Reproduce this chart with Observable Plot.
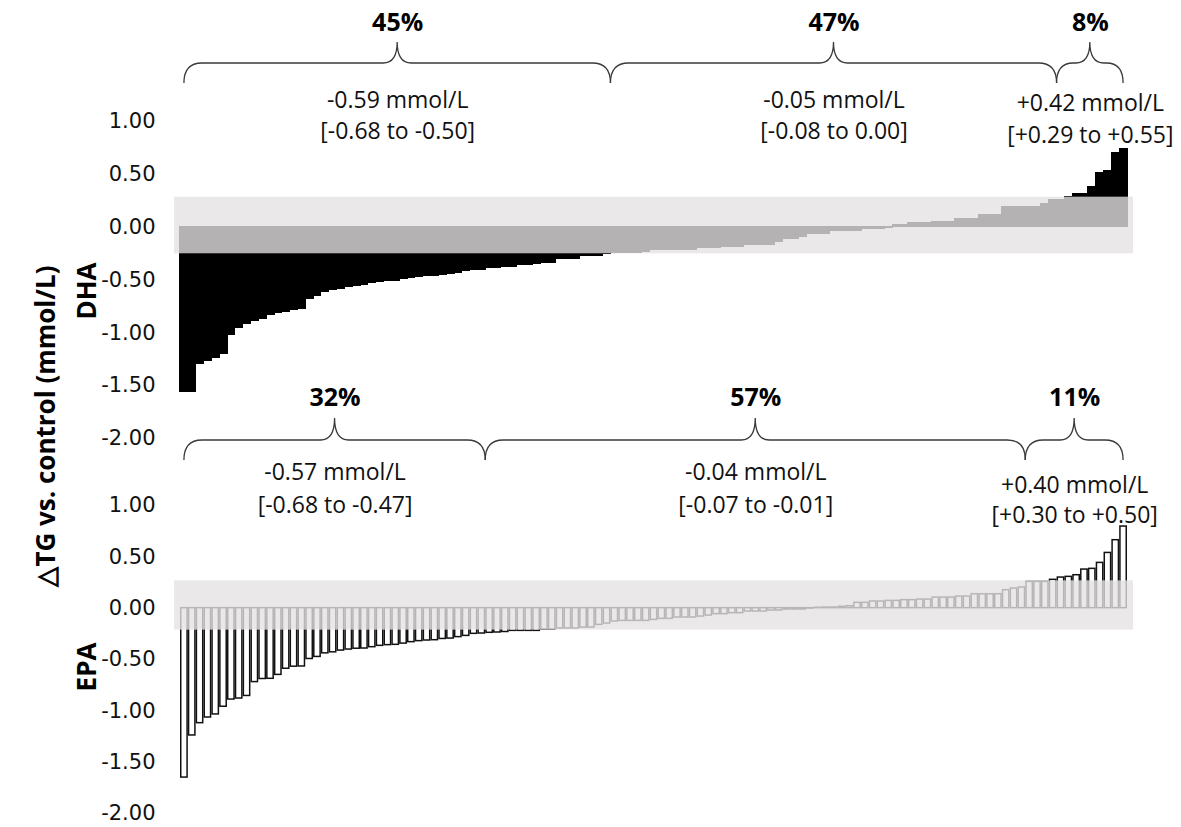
<!DOCTYPE html>
<html><head><meta charset="utf-8">
<script src="https://cdn.jsdelivr.net/npm/d3@7"></script>
<script src="https://cdn.jsdelivr.net/npm/@observablehq/plot@0.6"></script>
<style>
body{margin:0;background:#fff;}
#wrap{position:relative;width:1181px;height:827px;overflow:hidden;background:#fff;}
#wrap svg{position:absolute;left:0;background:transparent;overflow:visible;}
.rot{position:absolute;transform:translate(-50%,-50%) rotate(-90deg);white-space:nowrap;font-family:"Open Sans";font-weight:bold;color:#000;}
</style></head>
<body><div id="wrap">
<div class="rot" style="left:45px;top:426px;font-size:26px;">△TG vs. control (mmol/L)</div>
<div class="rot" style="left:86px;top:291px;font-size:26px;">DHA</div>
<div class="rot" style="left:86px;top:667px;font-size:26px;">EPA</div>
</div>
<script>
// ---- data (sorted per-subject changes, mmol/L) ----
const dhaValues = [
-1.56,-1.56,-1.29,-1.27,-1.24,-1.20,-1.015,-0.95,-0.92,-0.89,
-0.865,-0.826,-0.81,-0.80,-0.78,-0.77,-0.675,-0.65,-0.61,-0.593,
-0.58,-0.567,-0.558,-0.542,-0.526,-0.52,-0.511,-0.504,-0.492,-0.479,
-0.47,-0.463,-0.457,-0.448,-0.441,-0.432,-0.415,-0.405,-0.40,-0.388,
-0.388,-0.372,-0.372,-0.353,-0.353,-0.345,-0.337,-0.337,-0.299,-0.299,
-0.299,-0.274,-0.274,-0.27,-0.25,-0.248,-0.248,-0.248,-0.248,-0.23,
-0.214,-0.214,-0.214,-0.214,-0.214,-0.214,-0.195,-0.195,-0.195,-0.183,
-0.183,-0.183,-0.167,-0.167,-0.167,-0.167,-0.142,-0.11,-0.11,-0.09,
-0.063,-0.063,-0.063,-0.031,-0.031,-0.031,-0.031,-0.016,-0.016,-0.016,
-0.005,0.023,0.023,0.038,0.038,0.038,0.047,0.047,0.047,0.073,
0.073,0.073,0.114,0.114,0.114,0.19,0.19,0.19,0.19,0.19,
0.22,0.253,0.253,0.284,0.31,0.31,0.38,0.515,0.53,0.70,
0.735];
const epaValues = [
-1.65,-1.24,-1.12,-1.065,-1.035,-0.96,-0.89,-0.88,-0.855,-0.72,
-0.69,-0.688,-0.65,-0.59,-0.57,-0.568,-0.495,-0.475,-0.44,-0.43,
-0.413,-0.403,-0.395,-0.393,-0.38,-0.367,-0.36,-0.357,-0.345,-0.331,
-0.321,-0.315,-0.312,-0.30,-0.296,-0.282,-0.27,-0.25,-0.247,-0.24,
-0.237,-0.232,-0.221,-0.221,-0.221,-0.221,-0.208,-0.208,-0.198,-0.198,
-0.198,-0.189,-0.189,-0.163,-0.15,-0.13,-0.124,-0.124,-0.124,-0.124,
-0.114,-0.104,-0.104,-0.091,-0.091,-0.091,-0.082,-0.072,-0.058,-0.058,
-0.049,-0.049,-0.033,-0.033,-0.033,-0.023,-0.023,-0.013,-0.013,-0.013,
-0.004,0.004,0.006,0.006,0.013,0.019,0.052,0.052,0.065,0.065,
0.071,0.071,0.078,0.078,0.084,0.084,0.103,0.103,0.103,0.113,
0.113,0.136,0.136,0.136,0.136,0.175,0.191,0.201,0.256,0.256,
0.256,0.276,0.298,0.305,0.321,0.376,0.383,0.441,0.538,0.662,
0.795];

const yTicks = [1, 0.5, 0, -0.5, -1, -1.5, -2];

const dhaGroupSizes = [55, 57, 9];
const dhaPct  = ["45%", "47%", "8%"];
const dhaMean = ["-0.59 mmol/L", "-0.05 mmol/L", "+0.42 mmol/L"];
const dhaCI   = ["[-0.68 to -0.50]", "[-0.08 to 0.00]", "[+0.29 to +0.55]"];
const dhaBand = [-0.252, 0.284];

const epaGroupSizes = [39, 69, 13];
const epaPct  = ["32%", "57%", "11%"];
const epaMean = ["-0.57 mmol/L", "-0.04 mmol/L", "+0.40 mmol/L"];
const epaCI   = ["[-0.68 to -0.47]", "[-0.07 to -0.01]", "[+0.30 to +0.50]"];
const epaBand = [-0.214, 0.266];

function makeGroups(sizes, pct, mean, ci) {
  let c = 0;
  return sizes.map((s, k) => {
    const g = {k, pct: pct[k], mean: mean[k], ci: ci[k], b0: k === 0 ? c + 0.5 : c, b1: k === sizes.length - 1 ? c + s - 0.5 : c + s};
    g.mid = (g.b0 + g.b1) / 2;
    c += s;
    return g;
  });
}

function braces(groups, yEnd, yLine, yCusp) {
  return (index, scales, values, dimensions) => {
    const g = d3.create("svg:g");
    const t = dimensions.marginTop;
    for (const gr of groups) {
      const x0 = scales.x(gr.b0), x1 = scales.x(gr.b1), xm = (x0 + x1) / 2;
      const r = Math.min(18, (x1 - x0) / 4), rc = Math.min(14, (x1 - x0) / 4);
      const e = t + yEnd, l = t + yLine, c = t + yCusp;
      const d = `M${x0},${e} Q${x0},${l} ${x0 + r},${l} L${xm - rc},${l} Q${xm},${l} ${xm},${c} Q${xm},${l} ${xm + rc},${l} L${x1 - r},${l} Q${x1},${l} ${x1},${e}`;
      g.append("path").attr("d", d).attr("fill", "none").attr("stroke", "#3a3a3a").attr("stroke-width", 1.3);
    }
    return g.node();
  };
}

function panel(cfg) {
  const {values, groups, band, solid, height, marginTop, marginBottom, top, dys, lastShift, brace} = cfg;
  const bars = values.map((v, i) => ({i, v}));
  const n = values.length;
  const textOpts = {x: "mid", frameAnchor: "top", lineAnchor: "middle", fontFamily: "Open Sans", fill: "#111"};
  const textMarks = [];
  for (const g of groups) {
    const s = g.k === groups.length - 1 ? lastShift : [0, 0];
    textMarks.push(Plot.text([g], {...textOpts, text: "pct", dy: dys[0], fontWeight: "bold", fontSize: 25, fill: "#000"}));
    textMarks.push(Plot.text([g], {...textOpts, text: "mean", dy: dys[1] + s[0], fontSize: 23}));
    textMarks.push(Plot.text([g], {...textOpts, text: "ci", dy: dys[2] + s[1], fontSize: 23}));
  }
  const svg = Plot.plot({
    width: 1181,
    height,
    marginLeft: 180,
    marginRight: 54,
    marginTop,
    marginBottom,
    style: {background: "transparent", overflow: "visible", fontFamily: "DejaVu Sans", fontSize: "21px", color: "#111"},
    x: {domain: [0, n], axis: null},
    y: {domain: [-2, 1], ticks: yTicks, tickFormat: d => d.toFixed(2), tickSize: 0, tickPadding: 25, label: null},
    marks: [
      Plot.rect(bars, {
        x1: d => d.i, x2: d => d.i + 1, y1: () => 0, y2: "v",
        fill: solid ? "#000" : "#fff",
        stroke: solid ? "#000" : "#111",
        strokeWidth: solid ? 1.2 : 1.5,
        shapeRendering: solid ? "crispEdges" : "auto",
        insetLeft: solid ? 0 : 0.75, insetRight: solid ? 0 : 0.75
      }),
      Plot.rect([band], {
        x1: () => 0, x2: () => n, y1: d => d[0], y2: d => d[1],
        insetLeft: -6, insetRight: -6,
        fill: "rgb(228,226,226)", fillOpacity: 0.79
      }),
      braces(groups, ...brace),
      ...textMarks
    ]
  });
  svg.style.top = top + "px";
  return svg;
}

const wrap = document.getElementById("wrap");
wrap.appendChild(panel({
  values: dhaValues,
  groups: makeGroups(dhaGroupSizes, dhaPct, dhaMean, dhaCI),
  band: dhaBand, solid: true,
  height: 450, marginTop: 121, marginBottom: 12, top: 0,
  dys: [-99, -21, 10], lastShift: [3, 4],
  brace: [-38, -58, -79]
}));
wrap.appendChild(panel({
  values: epaValues,
  groups: makeGroups(epaGroupSizes, epaPct, epaMean, epaCI),
  band: epaBand, solid: false,
  height: 447, marginTop: 125, marginBottom: 14, top: 380,
  dys: [-108, -33, 0], lastShift: [13, 10],
  brace: [-45, -65, -87]
}));
</script>
</body></html>
